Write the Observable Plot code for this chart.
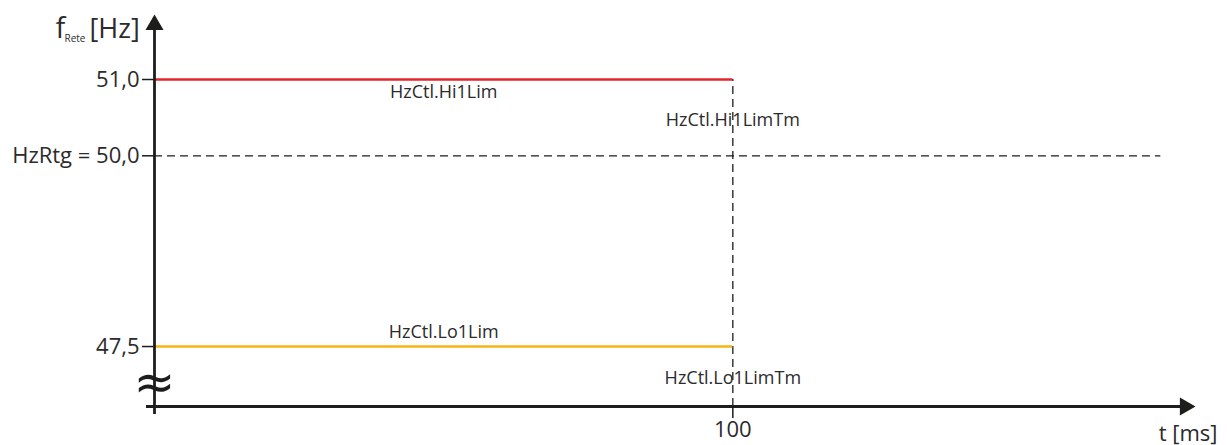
<!DOCTYPE html>
<html><head><meta charset="utf-8">
<script src="https://cdn.jsdelivr.net/npm/d3@7"></script>
<script src="https://cdn.jsdelivr.net/npm/@observablehq/plot@0.6"></script>
<style>body{margin:0;background:#fff} svg{display:block}</style>
</head><body><div id="chart"></div>
<script>
// Data
const yTicks = [47.5, 50, 51];
const yTickLabels = ["47,5", "HzRtg = 50,0", "51,0"];
const xTicks = [100];
const xTickLabels = ["100"];
const ratedHz = 50;
const ratedLineEnd = 174;
const limitNames = ["HzCtl.Hi1Lim", "HzCtl.Lo1Lim"];
const limitTimeNames = ["HzCtl.Hi1LimTm", "HzCtl.Lo1LimTm"];
const limitHz = [51, 47.5];
const limitTm = [100, 100];
const limitColors = ["#e4262b", "#f7b315"];
const xMax = 180;
const yMin = 46.714, yMax = 51.852;

const limits = limitNames.map((n, i) => ({name: n, tmName: limitTimeNames[i], hz: limitHz[i], tm: limitTm[i], color: limitColors[i]}));
const ink = "#1d1d1b", txt = "#2b2b2b";

const chart = Plot.plot({
  width: 1227, height: 445,
  marginLeft: 154, marginRight: 32, marginTop: 14, marginBottom: 39,
  x: {domain: [0, xMax], axis: null},
  y: {domain: [yMin, yMax], axis: null},
  style: {fontFamily: "'Open Sans', sans-serif", color: txt, background: "#fff", overflow: "visible"},
  marks: [
    Plot.ruleY([ratedHz], {x1: 0, x2: ratedLineEnd, stroke: ink, strokeWidth: 1.3, strokeDasharray: "8,5"}),
    Plot.ruleX([limits[0]], {x: "tm", y1: yMin, y2: "hz", stroke: ink, strokeWidth: 1.3, strokeDasharray: "8,5"}),
    Plot.ruleY(limits, {y: "hz", x1: 0, x2: "tm", stroke: "color", strokeWidth: 2.6}),
    Plot.ruleX([0], {y1: yMin, y2: yMax, stroke: ink, strokeWidth: 2.8, dy: 8}),
    Plot.ruleY([yMin], {x1: 0, x2: xMax, stroke: ink, strokeWidth: 2.8, dx: -8}),
    Plot.dot([0], {x: 0, y: yMax, symbol: "triangle", r: 6.7, fill: ink, stroke: null, dy: 10.4}),
    Plot.dot([0], {x: xMax, y: yMin, symbol: "triangle", r: 6.7, fill: ink, stroke: null, rotate: 90, dx: -10.4}),
    Plot.axisY(yTicks, {anchor: "left", tickSize: 12, tickPadding: 3, tickFormat: d => yTickLabels[yTicks.indexOf(d)], fontSize: 22, stroke: ink, strokeWidth: 1.5, fill: txt, label: null}),
    Plot.axisX(xTicks, {anchor: "bottom", tickSize: 12, tickPadding: 3, tickFormat: d => xTickLabels[xTicks.indexOf(d)], fontSize: 22, stroke: ink, strokeWidth: 1.5, fill: txt, label: null}),
    Plot.text(["≈"], {x: 0, y: yMin, dy: -24, fontSize: 50, fill: ink, fontFamily: "DejaVu Sans"}),
    Plot.text(limits.slice(0, 1), {x: d => d.tm / 2, y: "hz", text: "name", dy: 13, fontSize: 18, fill: txt}),
    Plot.text(limits.slice(1, 2), {x: d => d.tm / 2, y: "hz", text: "name", dy: -14, fontSize: 18, fill: txt}),
    Plot.text(limits.slice(0, 1), {x: "tm", y: "hz", text: "tmName", dy: 41, fontSize: 18, fill: txt}),
    Plot.text(limits.slice(1, 2), {x: "tm", y: "hz", text: "tmName", dy: 32, fontSize: 18, fill: txt}),
    Plot.text(["t [ms]"], {x: xMax, y: yMin, text: d => d, textAnchor: "end", dx: 22, dy: 27, fontSize: 22, fill: txt}),
    Plot.text(["f"], {x: 0, y: yMax, text: d => d, textAnchor: "start", lineAnchor: "bottom", dx: -99, dy: 23, fontSize: 29, fill: txt}),
    Plot.text(["Rete"], {x: 0, y: yMax, text: d => d, textAnchor: "start", lineAnchor: "bottom", dx: -90, dy: 27, fontSize: 10, fill: txt}),
    Plot.text(["[Hz]"], {x: 0, y: yMax, text: d => d, textAnchor: "start", lineAnchor: "bottom", dx: -65, dy: 23, fontSize: 27, fill: txt})
  ]
});
document.getElementById("chart").append(chart);
</script>
</body></html>
